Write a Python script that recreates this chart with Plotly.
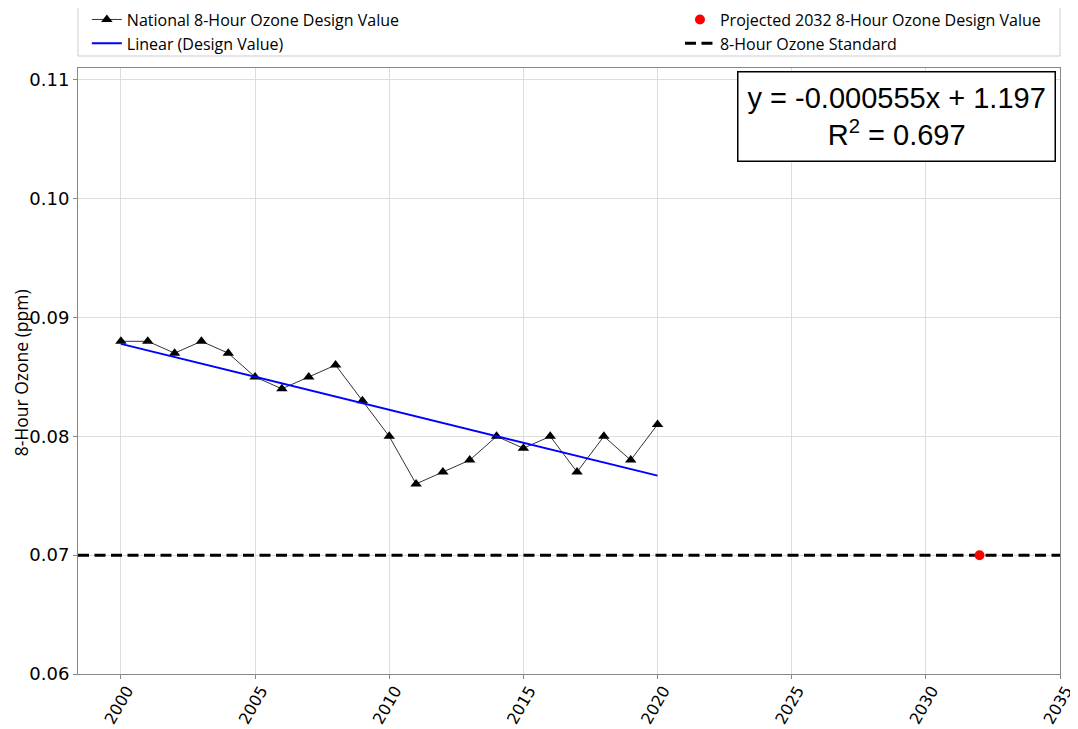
import numpy as np
import plotly.graph_objects as go

years = list(range(2000, 2021))
design_values = [0.088, 0.088, 0.087, 0.088, 0.087, 0.085, 0.084, 0.085, 0.086, 0.083,
                 0.080, 0.076, 0.077, 0.078, 0.080, 0.079, 0.080, 0.077, 0.080, 0.078, 0.081]
projected_year = [2032]
projected_value = [0.07]
standard_value = 0.07
x_range = [1998.4, 2035]
y_range = [0.06, 0.111]
x_ticks = [2000, 2005, 2010, 2015, 2020, 2025, 2030, 2035]
y_ticks = [0.06, 0.07, 0.08, 0.09, 0.10, 0.11]
y_title = "8-Hour Ozone (ppm)"

slope, intercept = np.polyfit(years, design_values, 1)
fit = [slope * x + intercept for x in years]
resid = np.array(design_values) - np.array(fit)
r2 = 1 - np.sum(resid**2) / np.sum((np.array(design_values) - np.mean(design_values))**2)

fig = go.Figure()
fig.add_trace(go.Scatter(x=years, y=design_values, mode="lines+markers",
                         name="National 8-Hour Ozone Design Value",
                         legend="legend", legendgroup="a",
                         line=dict(color="#333333", width=1),
                         marker=dict(symbol="triangle-up", size=10, color="black")))
fig.add_trace(go.Scatter(x=years, y=fit, mode="lines", name="Linear (Design Value)",
                         legend="legend", legendgroup="b",
                         line=dict(color="blue", width=2)))
fig.add_trace(go.Scatter(x=x_range, y=[standard_value, standard_value], mode="lines",
                         name="8-Hour Ozone Standard",
                         legend="legend2", legendgroup="d",
                         line=dict(color="black", width=3, dash="11px,5.5px")))
fig.add_trace(go.Scatter(x=projected_year, y=projected_value, mode="markers",
                         name="Projected 2032 8-Hour Ozone Design Value",
                         legend="legend2", legendgroup="c", legendrank=1,
                         marker=dict(symbol="circle", size=10, color="red")))
fig.data[2].legendrank = 2

fig.add_annotation(xref="paper", yref="paper", x=0.996, y=0.995, xanchor="right", yanchor="top",
                   text=f"y = {slope:.6f}x + {intercept:.3f}<br>R<sup>2</sup> = {r2:.3f}",
                   showarrow=False, align="center",
                   font=dict(family="Liberation Sans", size=29, color="black"),
                   bordercolor="black", borderwidth=1.5, borderpad=9, bgcolor="white")

# y axis title
fig.add_annotation(xref="paper", yref="paper", x=-0.0586, y=0.497, xanchor="center", yanchor="middle",
                   text=y_title, textangle=-90, showarrow=False, borderpad=0,
                   font=dict(family="Open Sans", size=17.5, color="black"))

# legend frame
fig.add_shape(type="rect", xref="paper", yref="paper", x0=0, x1=1, y0=1.0198, y1=1.102,
              line=dict(color="#cccccc", width=1), fillcolor="rgba(0,0,0,0)", layer="above")

legend_font = dict(size=16, family="Open Sans", color="black")
fig.update_layout(
    width=1070, height=721,
    paper_bgcolor="white", plot_bgcolor="white",
    margin=dict(l=70, r=18, t=60, b=55, autoexpand=False),
    font=dict(family="DejaVu Sans", color="black"),
    showlegend=True,
    legend=dict(orientation="v", x=0.009, y=1.108, xanchor="left", yanchor="top",
                font=legend_font, bgcolor="rgba(0,0,0,0)", tracegroupgap=0,
                traceorder="normal"),
    legend2=dict(orientation="v", x=0.613, y=1.108, xanchor="left", yanchor="top",
                 font=legend_font, bgcolor="rgba(0,0,0,0)", tracegroupgap=0,
                 traceorder="normal"),
    xaxis=dict(range=x_range, tickvals=x_ticks, tickangle=-60,
               tickfont=dict(size=16), showgrid=True, gridcolor="#dddddd",
               showline=True, linecolor="#888888", mirror=True, zeroline=False, ticks="outside",
               tickcolor="#888888", ticklen=4, ticklabelstandoff=-4, ticklabelshift=6),
    yaxis=dict(range=y_range, tickvals=y_ticks, tickformat=".2f",
               tickfont=dict(size=18), showgrid=True, gridcolor="#dddddd",
               showline=True, linecolor="#888888", mirror=True, zeroline=False, ticks="outside",
               tickcolor="#888888", ticklen=4),
)

fig.write_html("out.html")
